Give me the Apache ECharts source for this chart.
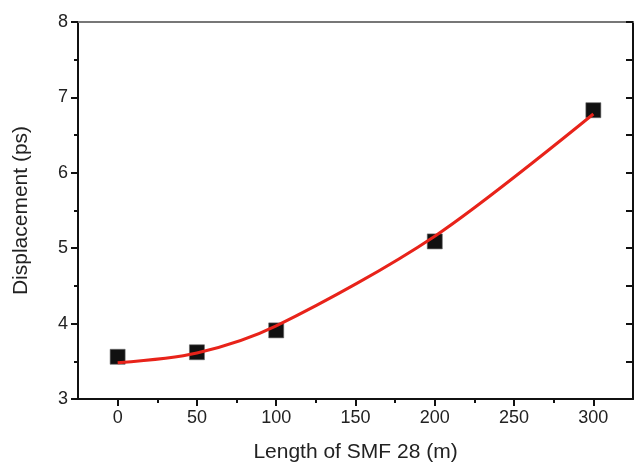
<!DOCTYPE html>
<html><head><meta charset="utf-8">
<script src="https://cdn.jsdelivr.net/npm/echarts@6/dist/echarts.min.js"></script>
<style>html,body{margin:0;padding:0;background:#fff}#c{width:641px;height:464px}</style>
</head><body><div id="c"></div>
<script>
var lengths = [0, 50, 100, 200, 300];
var measured = [3.56, 3.62, 3.91, 5.09, 6.83];
var fitted = [3.48, 3.61, 3.97, 5.16, 6.78];
var xMajorTicks = [0, 50, 100, 150, 200, 250, 300];
var xMinorTicks = [25, 75, 125, 175, 225, 275];
var xName = 'Length of SMF 28 (m)';
var yName = 'Displacement (ps)';

var font = 'Liberation Sans, Arial, sans-serif';
var chart = echarts.init(document.getElementById('c'));
chart.setOption({
  animation: false,
  grid: {left: 78, right: 8, top: 22, bottom: 65, containLabel: false, outerBoundsMode: 'none'},
  xAxis: [
    {type: 'value', min: -25, max: 325, position: 'bottom',
     name: xName, nameLocation: 'middle', nameGap: 43,
     nameTextStyle: {fontFamily: font, fontSize: 21, color: '#222'},
     axisLine: {show: true, onZero: false, lineStyle: {color: '#111', width: 2}},
     axisTick: {show: true, customValues: xMajorTicks, length: 7, lineStyle: {color: '#111', width: 2}},
     axisLabel: {customValues: xMajorTicks, fontFamily: font, fontSize: 18, color: '#222', margin: 10},
     splitLine: {show: false}},
    {type: 'value', min: -25, max: 325, position: 'bottom', gridIndex: 0,
     axisLine: {show: false, onZero: false},
     axisTick: {show: true, customValues: xMinorTicks, length: 4, lineStyle: {color: '#111', width: 2}},
     axisLabel: {show: false}, splitLine: {show: false}},
    {type: 'value', min: -25, max: 325, position: 'top',
     axisLine: {show: true, onZero: false, lineStyle: {color: '#777', width: 2}},
     axisTick: {show: false}, axisLabel: {show: false}, splitLine: {show: false}}
  ],
  yAxis: [
    {type: 'value', min: 3, max: 8, interval: 1, position: 'left',
     name: yName, nameLocation: 'middle', nameGap: 46,
     nameTextStyle: {fontFamily: font, fontSize: 21, color: '#222'},
     axisLine: {show: true, onZero: false, lineStyle: {color: '#111', width: 2}},
     axisTick: {show: true, length: 7, lineStyle: {color: '#111', width: 2}},
     minorTick: {show: true, splitNumber: 2, length: 4, lineStyle: {color: '#111', width: 2}},
     axisLabel: {fontFamily: font, fontSize: 18, color: '#222', margin: 10},
     splitLine: {show: false}},
    {type: 'value', min: 3, max: 8, interval: 1, position: 'right',
     axisLine: {show: true, onZero: false, lineStyle: {color: '#111', width: 2}},
     axisTick: {show: true, inside: true, length: 7, lineStyle: {color: '#111', width: 2}},
     minorTick: {show: true, splitNumber: 2, length: 7, lineStyle: {color: '#111', width: 2}},
     axisLabel: {show: false}, splitLine: {show: false}}
  ],
  series: [
    {type: 'line', xAxisIndex: 0, yAxisIndex: 0, smooth: 0.3, showSymbol: false, symbol: 'none',
     data: lengths.map(function (x, i) { return [x, fitted[i]]; }),
     lineStyle: {color: '#e8231a', width: 3}, z: 3},
    {type: 'scatter', xAxisIndex: 0, yAxisIndex: 0, symbol: 'rect', symbolSize: 15,
     data: lengths.map(function (x, i) { return [x, measured[i]]; }),
     itemStyle: {color: '#111', opacity: 1, borderColor: '#666', borderWidth: 0.6}, z: 2}
  ]
});
</script></body></html>
